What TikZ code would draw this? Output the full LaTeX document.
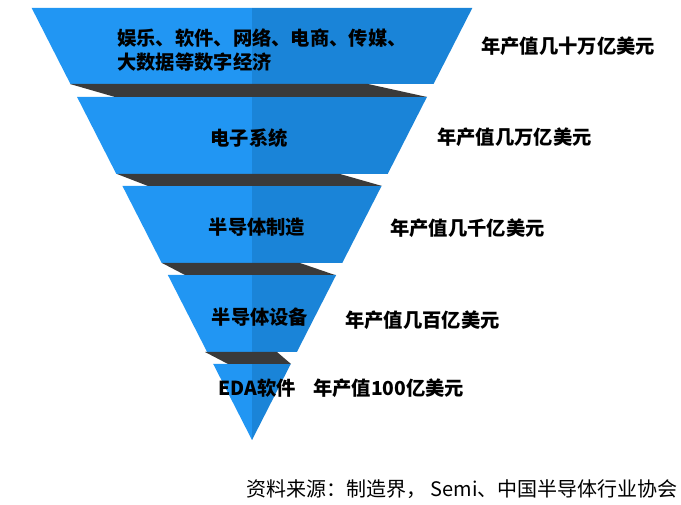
\documentclass[tikz,border=0pt]{standalone}
\usepackage{fontspec}
\setmainfont{Noto Sans CJK SC}
\usepackage{xcolor}
\usetikzlibrary{positioning}
\definecolor{funnelL}{HTML}{2196F3}
\definecolor{funnelR}{HTML}{1A84D8}
\definecolor{foldgray}{HTML}{3A3A3A}

\begin{document}
\begin{tikzpicture}[
  x=1pt, y=-1pt,
  bandL/.style={fill=funnelL},
  bandR/.style={fill=funnelR},
  fold/.style={fill=foldgray},
  stage/.style={inner sep=0pt, font=\fontsize{19.3}{24}\selectfont\bfseries, align=left},
  value/.style={inner sep=0pt, anchor=west, font=\fontsize{19.3}{24}\selectfont\bfseries},
  source/.style={inner sep=0pt, anchor=west, font=\fontsize{20}{24}\selectfont}
]
\useasboundingbox (0,0) rectangle (681,505);

% funnel bands, cut from one triangle with apex (252,440)
\foreach \yt/\yb in {8/84, 97/174, 186/263, 275/352} {
  \fill[bandL] ({252-0.51*(440-\yt)},\yt) -- (252,\yt) -- (252,\yb) -- ({252-0.51*(440-\yb)},\yb) -- cycle;
  \fill[bandR] (252,\yt) -- ({252+0.51*(440-\yt)},\yt) -- ({252+0.51*(440-\yb)},\yb) -- (252,\yb) -- cycle;
}
\fill[bandL] ({252-0.51*76},364) -- (252,364) -- (252,440) -- cycle;
\fill[bandR] (252,364) -- ({252+0.51*76},364) -- (252,440) -- cycle;

% dark folds between the bands
\fill[fold] (70,84) -- (368,84) -- (427,97) -- (115,97) -- cycle;
\fill[fold] (117,174) -- (340,174) -- (382,186) -- (148,186) -- cycle;
\fill[fold] (162,263) -- (300,263) -- (335,275) -- (185,275) -- cycle;
\fill[fold] (205,352) -- (277,352) -- (291,364) -- (228,364) -- cycle;

% stage names
\node[stage, anchor=west] (economy) at (117,50) {娱乐、软件、网络、电商、传媒、\\大数据等数字经济};
\node[stage] (systems) at (249,138) {电子系统};
\node[stage] (fab) at (257,227) {半导体制造};
\node[stage] (equip) at (260,317) {半导体设备};
\node[stage] (eda) at (257,388) {EDA软件};

% market sizes
\node[value] (v1) at (481,46) {年产值几十万亿美元};
\node[value] (v2) at (437,137) {年产值几万亿美元};
\node[value] (v3) at (390,228) {年产值几千亿美元};
\node[value] (v4) at (345,320) {年产值几百亿美元};
\node[value] (v5) at (313,388) {年产值100亿美元};

\node[source] (src) at (246,489) {资料来源：制造界， Semi、中国半导体行业协会};
\end{tikzpicture}
\end{document}
